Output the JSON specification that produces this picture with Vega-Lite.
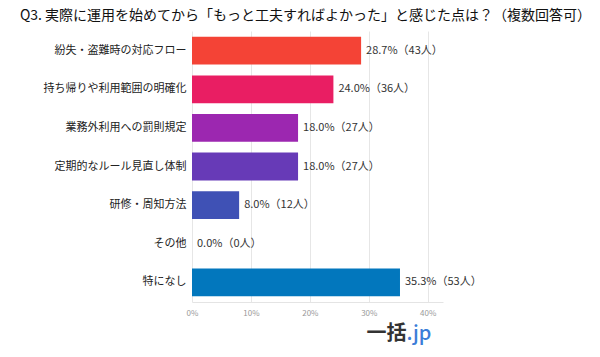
{
  "$schema": "https://vega.github.io/schema/vega-lite/v6.json",
  "width": 251,
  "height": 271,
  "autosize": {"type": "none"},
  "padding": {"left": 192, "top": 31, "right": 157, "bottom": 55},
  "background": "white",
  "config": {
    "font": "Noto Sans CJK JP",
    "view": {"stroke": null}
  },
  "title": {
    "text": "Q3. 実際に運用を始めてから「もっと工夫すればよかった」と感じた点は？（複数回答可）",
    "fontSize": 14,
    "fontWeight": "normal",
    "color": "#111111",
    "anchor": "middle",
    "frame": "group",
    "dx": -12,
    "offset": 8
  },
  "layer": [
    {
      "data": {
        "values": [
          {"item": "紛失・盗難時の対応フロー", "pct": 28.7, "n": 43, "label": "28.7%（43人）", "c": "a"},
          {"item": "持ち帰りや利用範囲の明確化", "pct": 24.0, "n": 36, "label": "24.0%（36人）", "c": "b"},
          {"item": "業務外利用への罰則規定", "pct": 18.0, "n": 27, "label": "18.0%（27人）", "c": "c"},
          {"item": "定期的なルール見直し体制", "pct": 18.0, "n": 27, "label": "18.0%（27人）", "c": "d"},
          {"item": "研修・周知方法", "pct": 8.0, "n": 12, "label": "8.0%（12人）", "c": "e"},
          {"item": "その他", "pct": 0.0, "n": 0, "label": "0.0%（0人）", "c": "f"},
          {"item": "特になし", "pct": 35.3, "n": 53, "label": "35.3%（53人）", "c": "g"}
        ]
      },
      "encoding": {
        "y": {
          "field": "item",
          "type": "nominal",
          "sort": null,
          "scale": {"paddingInner": 0.28, "paddingOuter": 0.15},
          "axis": {
            "title": null,
            "ticks": false,
            "domain": false,
            "labelFontSize": 11,
            "labelColor": "#222222",
            "labelPadding": 6,
            "labelLimit": 200
          }
        },
        "x": {
          "field": "pct",
          "type": "quantitative",
          "scale": {"domain": [0, 42.6], "nice": false},
          "axis": {
            "title": null,
            "values": [0, 10, 20, 30, 40],
            "labelExpr": "datum.value + '%'",
            "labelFontSize": 8,
            "labelColor": "#999999",
            "labelPadding": 7,
            "ticks": false,
            "domainColor": "#e4e4e4",
            "gridColor": "#e6e6e6",
            "labelFlush": false
          }
        }
      },
      "layer": [
        {
          "mark": {"type": "bar"},
          "encoding": {
            "color": {
              "field": "c",
              "type": "nominal",
              "scale": {
                "domain": ["a", "b", "c", "d", "e", "f", "g"],
                "range": ["#f44336", "#e91e63", "#9c27b0", "#673ab7", "#3f51b5", "#03a9f4", "#0277bd"]
              },
              "legend": null
            }
          }
        },
        {
          "mark": {"type": "text", "align": "left", "dx": 5, "fontSize": 11, "color": "#333333"},
          "encoding": {"text": {"field": "label"}}
        }
      ]
    },
    {
      "data": {"values": [{"part": "一括", "pos": 36.4}]},
      "mark": {"type": "text", "align": "right", "baseline": "middle", "fontSize": 20, "fontWeight": "bold", "color": "#333333", "dy": 52},
      "encoding": {
        "x": {"field": "pos", "type": "quantitative"},
        "y": {"datum": "特になし", "type": "nominal"},
        "text": {"field": "part"}
      }
    },
    {
      "data": {"values": [{"part": ".jp", "pos": 36.4}]},
      "mark": {"type": "text", "align": "left", "baseline": "middle", "fontSize": 20, "fontWeight": 500, "color": "#3b7dd8", "dy": 52},
      "encoding": {
        "x": {"field": "pos", "type": "quantitative"},
        "y": {"datum": "特になし", "type": "nominal"},
        "text": {"field": "part"}
      }
    }
  ]
}
